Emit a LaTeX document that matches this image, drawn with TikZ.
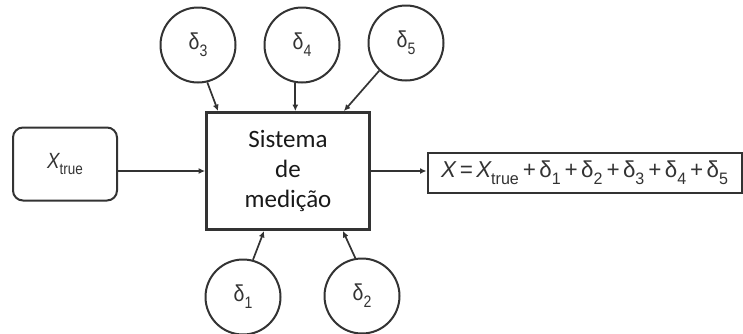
\documentclass[tikz,border=0pt]{standalone}
\usepackage{fontspec}
\setmainfont{Liberation Sans}
\newfontfamily\calib{Carlito}
\usetikzlibrary{arrows.meta,calc}
\definecolor{ln}{HTML}{333333}
\definecolor{tx}{HTML}{333333}
\newcommand\sbx[1]{\raisebox{-0.3em}{\scalebox{0.72}{\upshape #1}}}
\newcommand\dl{{\upshape δ}}
\begin{document}
\begin{tikzpicture}[x=1pt,y=-1pt,
  circ/.style={circle,draw=ln,line width=2pt,minimum size=75pt,inner sep=0pt,text=tx,font=\fontsize{23}{24}\selectfont},
  arr/.style={draw=ln,line width=1.7pt,-{Latex[length=6.5pt,width=6pt]}},
  ]
\useasboundingbox (0,0) rectangle (743,333);
\node[draw=ln,line width=2.8pt,minimum width=163pt,minimum height=117pt,inner sep=0pt,align=center,
  font=\calib\fontsize{25}{30}\selectfont,text=black!90] (main) at (288,171) {Sistema\\de\\medição};
\node[draw=ln,line width=2pt,rounded corners=10pt,minimum width=104pt,minimum height=73pt,inner sep=0pt,
  text=tx,font=\fontsize{22}{24}\selectfont] (xt) at (65,164) {\scalebox{0.85}[1]{\itshape X\sbx{true}}};
\node[draw=ln,line width=2pt,minimum width=314pt,minimum height=40pt,inner sep=0pt,
  text=tx,font=\fontsize{23}{26}\selectfont] (out) at (584.5,173)
  {\scalebox{0.97}[1]{\itshape X\,=\,X\sbx{true}\,+\,\dl\sbx{1}\,+\,\dl\sbx{2}\,+\,\dl\sbx{3}\,+\,\dl\sbx{4}\,+\,\dl\sbx{5}}};
\node[circ] (d3) at (198,45) {\scalebox{0.85}[1]{\dl\sbx{3}}};
\node[circ] (d4) at (302,45) {\scalebox{0.85}[1]{\dl\sbx{4}}};
\node[circ] (d5) at (406,43) {\scalebox{0.85}[1]{\dl\sbx{5}}};
\node[circ] (d1) at (243,297) {\scalebox{0.85}[1]{\dl\sbx{1}}};
\node[circ] (d2) at (362,296) {\scalebox{0.85}[1]{\dl\sbx{2}}};
\draw[arr] (xt.east |- main.west) -- (main.west);
\draw[arr] (main.east) -- (main.east -| out.west);
\draw[arr] (d3.-76) -- ([xshift=13pt]main.north west);
\draw[arr] (d4.-100) -- (d4.-100 |- main.north);
\draw[arr] (d5.-134) -- ([xshift=-27pt]main.north east);
\draw[arr] (d1.75) -- ([xshift=59pt]main.south west);
\draw[arr] (d2.100) -- ([xshift=-28pt]main.south east);
\end{tikzpicture}
\end{document}
